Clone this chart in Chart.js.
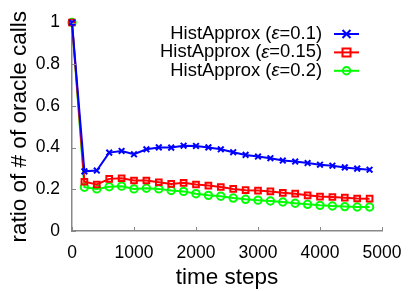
<!DOCTYPE html>
<html>
<head>
<meta charset="utf-8">
<script src="https://cdn.jsdelivr.net/npm/chart.js@4"></script>
<style>
  html, body { margin: 0; padding: 0; background: #fff; }
  #wrap { width: 415px; height: 291px; }
</style>
</head>
<body>
<div id="wrap"><canvas id="chart"></canvas></div>
<script>
const steps = [0, 200, 400, 600, 800, 1000, 1200, 1400, 1600, 1800, 2000, 2200, 2400,
  2600, 2800, 3000, 3200, 3400, 3600, 3800, 4000, 4200, 4400, 4600, 4800];

const eps01 = [1, 0.286, 0.29, 0.376, 0.384, 0.368, 0.392, 0.401, 0.40, 0.409, 0.408, 0.401, 0.392,
  0.378, 0.365, 0.357, 0.349, 0.338, 0.333, 0.326, 0.318, 0.313, 0.305, 0.299, 0.294];
const eps015 = [1, 0.236, 0.223, 0.25, 0.253, 0.242, 0.242, 0.234, 0.226, 0.231, 0.223, 0.218, 0.211,
  0.202, 0.196, 0.194, 0.19, 0.183, 0.179, 0.171, 0.165, 0.163, 0.16, 0.156, 0.155];
const eps02 = [1, 0.21, 0.202, 0.212, 0.215, 0.202, 0.205, 0.202, 0.194, 0.19, 0.179, 0.171, 0.167,
  0.158, 0.152, 0.148, 0.144, 0.139, 0.133, 0.128, 0.123, 0.12, 0.117, 0.115, 0.115];

const seriesLabels = ['HistApprox (ε=0.1)', 'HistApprox (ε=0.15)', 'HistApprox (ε=0.2)'];
const xTicks = [0, 1000, 2000, 3000, 4000, 5000];
const yTicks = [0, 0.2, 0.4, 0.6, 0.8, 1];

const FONT = '"Liberation Sans", Arial, sans-serif';
const AXIS = '#888888';

function pts(vals) {
  return vals.map((v, i) => ({ x: steps[i], y: v }));
}

function marker(ctx, style, x, y, r) {
  ctx.beginPath();
  if (style === 'crossRot') {
    ctx.moveTo(x - r, y - r); ctx.lineTo(x + r, y + r);
    ctx.moveTo(x - r, y + r); ctx.lineTo(x + r, y - r);
  } else if (style === 'rect') {
    ctx.rect(x - r, y - r, 2 * r, 2 * r);
  } else {
    ctx.arc(x, y, r, 0, Math.PI * 2);
  }
  ctx.stroke();
}

// inward tick marks on the two axes
const innerTicks = {
  id: 'innerTicks',
  afterDatasetsDraw(chart) {
    const { ctx, chartArea, scales } = chart;
    ctx.save();
    ctx.strokeStyle = AXIS;
    ctx.lineWidth = 1;
    ctx.beginPath();
    xTicks.forEach(v => {
      const px = Math.round(scales.x.getPixelForValue(v)) + 0.5;
      ctx.moveTo(px, chartArea.bottom);
      ctx.lineTo(px, chartArea.bottom - 4);
    });
    yTicks.forEach(v => {
      const py = Math.round(scales.y.getPixelForValue(v)) + 0.5;
      ctx.moveTo(chartArea.left, py);
      ctx.lineTo(chartArea.left + 4, py);
    });
    ctx.stroke();
    ctx.restore();
  }
};

// gnuplot-like key: right-aligned text, sample line with marker on the right
const keyBox = {
  id: 'keyBox',
  afterDraw(chart) {
    const ctx = chart.ctx;
    const right = 322;
    const size = 18.4;
    ctx.save();
    ctx.textBaseline = 'middle';
    ctx.textAlign = 'left';
    chart.data.datasets.forEach((ds, i) => {
      const y = 34 + i * 18.4;
      const [pre, post] = ds.label.split('ε');
      ctx.fillStyle = '#000';
      ctx.font = size + 'px ' + FONT;
      const wPost = ctx.measureText(post).width;
      const wPre = ctx.measureText(pre).width;
      ctx.font = 'italic ' + size + 'px ' + FONT;
      const wEps = ctx.measureText('ε').width;
      const x = right - wPost - wEps - wPre;
      ctx.font = size + 'px ' + FONT;
      ctx.fillText(pre, x, y);
      ctx.font = 'italic ' + size + 'px ' + FONT;
      ctx.fillText('ε', x + wPre, y);
      ctx.font = size + 'px ' + FONT;
      ctx.fillText(post, x + wPre + wEps, y);

      ctx.strokeStyle = ds.borderColor;
      ctx.lineWidth = 2;
      ctx.beginPath();
      ctx.moveTo(334, y);
      ctx.lineTo(359, y);
      ctx.stroke();
      marker(ctx, ds.pointStyle, 346.5, y, ds.pointRadius);
    });
    ctx.restore();
  }
};

const ctx = document.getElementById('chart').getContext('2d');

new Chart(ctx, {
  type: 'line',
  data: {
    datasets: [
      {
        label: seriesLabels[0],
        data: pts(eps01),
        borderColor: '#0000ff',
        backgroundColor: '#0000ff',
        pointStyle: 'crossRot',
        pointRadius: 4,
      },
      {
        label: seriesLabels[1],
        data: pts(eps015),
        borderColor: '#ff0000',
        backgroundColor: 'rgba(0,0,0,0)',
        pointStyle: 'rect',
        pointRadius: 4,
      },
      {
        label: seriesLabels[2],
        data: pts(eps02),
        borderColor: '#00ff00',
        backgroundColor: 'rgba(0,0,0,0)',
        pointStyle: 'circle',
        pointRadius: 3.7,
      },
    ],
  },
  options: {
    responsive: true,
    maintainAspectRatio: false,
    animation: false,
    layout: { padding: { top: 21, right: 33, left: 0, bottom: 0 } },
    elements: {
      line: { borderWidth: 2, tension: 0 },
      point: { borderWidth: 2, hoverRadius: 4 },
    },
    datasets: { line: { clip: false } },
    plugins: {
      legend: { display: false },
      tooltip: { enabled: false },
    },
    scales: {
      x: {
        type: 'linear',
        min: 0,
        max: 5000,
        afterBuildTicks: s => { s.ticks = xTicks.map(v => ({ value: v })); },
        afterFit: s => { s.height = 60; },
        grid: { display: false, drawTicks: false, tickLength: 0 },
        border: { color: AXIS, width: 1.5 },
        ticks: {
          color: '#000',
          font: { family: FONT, size: 17.5 },
          padding: 12,
          maxRotation: 0,
          callback: v => String(v),
        },
        title: {
          display: true,
          text: 'time steps',
          color: '#000',
          font: { family: FONT, size: 22.5 },
          padding: { top: 0, bottom: 0 },
        },
      },
      y: {
        min: 0,
        max: 1,
        afterBuildTicks: s => { s.ticks = yTicks.map(v => ({ value: v })); },
        afterFit: s => { s.width = 72; },
        grid: { display: false, drawTicks: false, tickLength: 0 },
        border: { color: AXIS, width: 1.5 },
        ticks: {
          color: '#000',
          font: { family: FONT, size: 17.5 },
          padding: 12,
          callback: v => String(v),
        },
        title: {
          display: true,
          text: 'ratio of # of oracle calls',
          color: '#000',
          font: { family: FONT, size: 22.5 },
          padding: { top: 6, bottom: 0 },
        },
      },
    },
  },
  plugins: [innerTicks, keyBox],
});
</script>
</body>
</html>
